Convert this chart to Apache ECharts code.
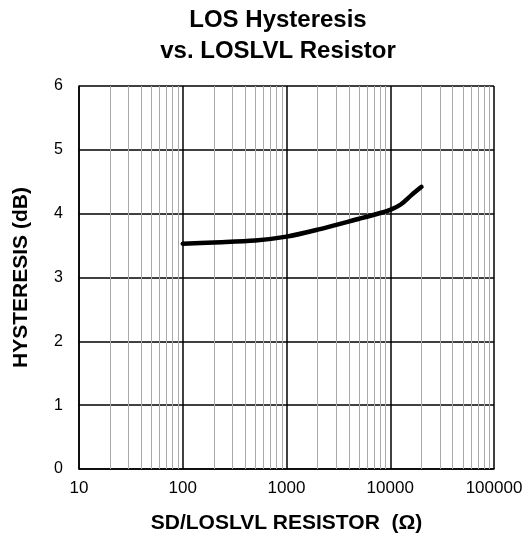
<!DOCTYPE html>
<html>
<head>
<meta charset="utf-8">
<script src="https://cdn.jsdelivr.net/npm/echarts@6/dist/echarts.min.js"></script>
<style>
  html, body { margin: 0; padding: 0; background: #fff; }
  #main { width: 531px; height: 541px; }
</style>
</head>
<body>
<div id="main"></div>
<script>
// curve
var resistance = [100, 200, 500, 1000, 2000, 5000, 8000, 10000, 12500, 16000, 20000];
var hysteresis = [3.53, 3.55, 3.58, 3.64, 3.75, 3.92, 4.01, 4.06, 4.14, 4.29, 4.42];

// minor log grid lines (2..9 of each decade)
var decades = [10, 100, 1000, 10000];
var minorMult = [2, 3, 4, 5, 6, 7, 8, 9];

var minorLines = [];
decades.forEach(function (d) {
  minorMult.forEach(function (m) {
    minorLines.push({ xAxis: d * m });
  });
});

var chart = echarts.init(document.getElementById('main'), null, { renderer: 'canvas' });
var font = 'Liberation Sans, Arial, sans-serif';

var option = {
  animation: false,
  backgroundColor: '#fff',
  title: {
    text: 'LOS Hysteresis\nvs. LOSLVL Resistor',
    left: 278,
    top: 5,
    padding: 0,
    textAlign: 'center',
    textStyle: {
      fontFamily: font,
      fontWeight: 'bold',
      fontSize: 24,
      lineHeight: 31,
      color: '#000'
    }
  },
  grid: {
    left: 79,
    right: 37,
    top: 86,
    bottom: 72,
    containLabel: false
  },
  xAxis: {
    type: 'log',
    logBase: 10,
    min: 10,
    max: 100000,
    name: 'SD/LOSLVL RESISTOR  (Ω)',
    nameLocation: 'middle',
    nameGap: 44,
    nameTextStyle: { fontFamily: font, fontWeight: 'bold', fontSize: 21, color: '#000' },
    axisLine: { show: true, lineStyle: { color: '#000', width: 1.5 } },
    axisTick: { show: false },
    axisLabel: {
      fontFamily: font, fontSize: 17, color: '#000', margin: 11,
      formatter: function (v) { return String(Math.round(v)); }
    },
    splitLine: { show: true, lineStyle: { color: '#000', width: 1.5 } },
    minorTick: { show: false },
    minorSplitLine: { show: false }
  },
  yAxis: {
    type: 'value',
    min: 0,
    max: 6,
    interval: 1,
    name: 'HYSTERESIS (dB)',
    nameLocation: 'middle',
    nameGap: 47,
    nameTextStyle: { fontFamily: font, fontWeight: 'bold', fontSize: 21, color: '#000' },
    axisLine: { show: true, lineStyle: { color: '#000', width: 1.5 } },
    axisTick: { show: false },
    axisLabel: { fontFamily: font, fontSize: 16, color: '#000', margin: 16 },
    splitLine: { show: true, lineStyle: { color: '#000', width: 1.5 } }
  },
  series: [
    {
      // minor vertical grid, placed through the x axis scale
      type: 'line',
      data: [],
      silent: true,
      z: 1,
      markLine: {
        silent: true,
        symbol: 'none',
        label: { show: false },
        lineStyle: { color: '#aaaaaa', width: 1, type: 'solid' },
        data: minorLines,
        animation: false
      }
    },
    {
      name: 'hysteresis',
      type: 'line',
      z: 5,
      smooth: 0.3,
      showSymbol: false,
      symbol: 'none',
      lineStyle: { color: '#000', width: 4.5, cap: 'round', join: 'round' },
      data: resistance.map(function (r, i) { return [r, hysteresis[i]]; })
    }
  ]
};

chart.setOption(option);
</script>
</body>
</html>
